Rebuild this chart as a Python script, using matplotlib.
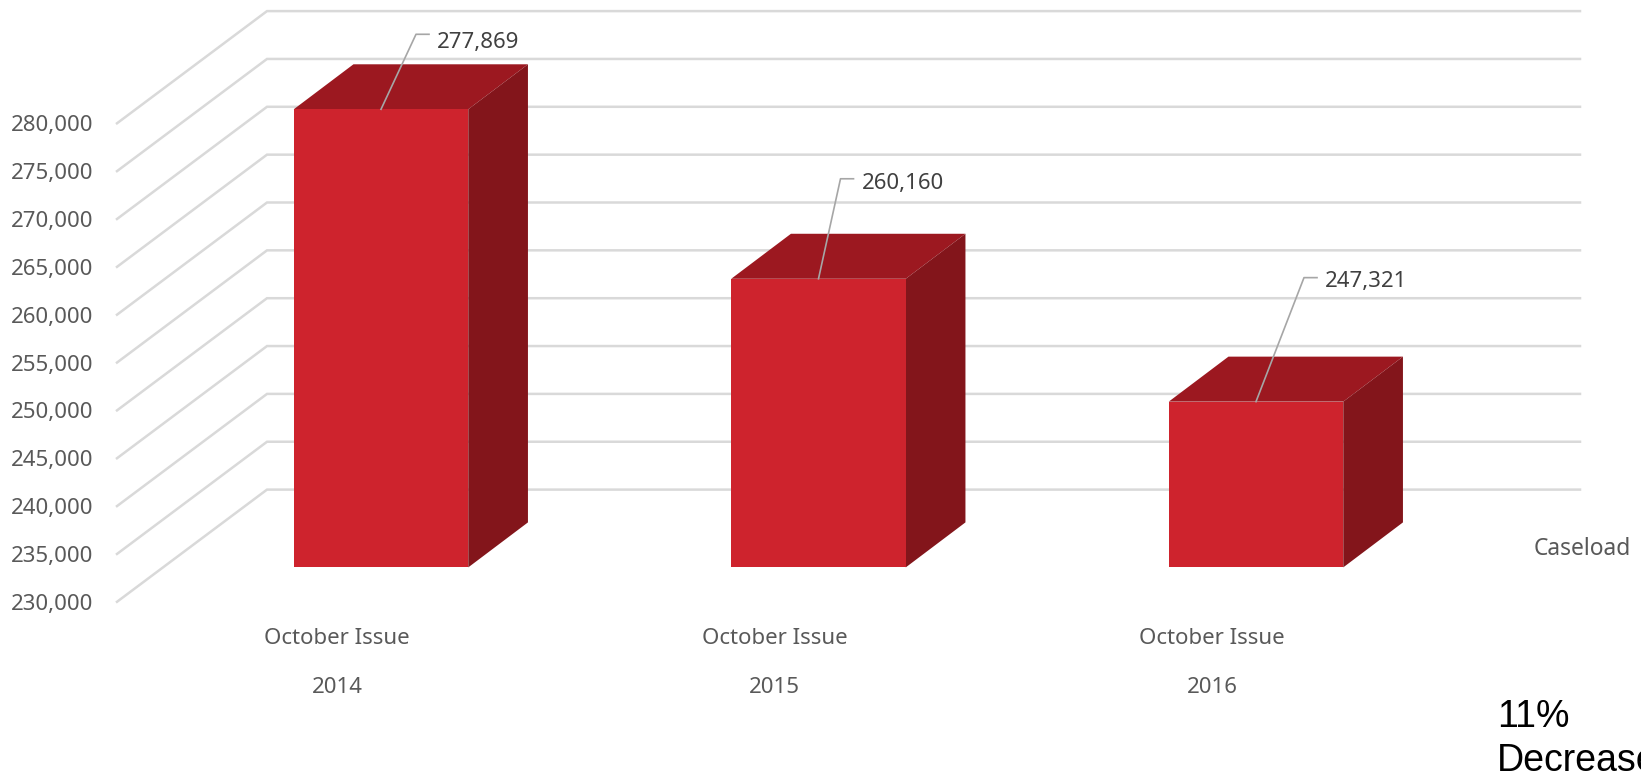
import numpy as np
import matplotlib
matplotlib.use('Agg')
import matplotlib.pyplot as plt

# Data
years = ['2014', '2015', '2016']
issue_labels = ['October Issue', 'October Issue', 'October Issue']
caseload = np.array([277869, 260160, 247321])
grid_values = np.arange(230000, 285000, 5000)
series_name = 'Caseload'
note_lines = ['11%', 'Decrease']

# Scales of the picture
px_per_cat = 437.5      # pixels between two bars
px_per_5k = 47.85       # pixels per 5,000 cases
x0_px = 381.0           # pixel of the first bar centre
base_px = 567.4         # pixel of the bar bottoms
W, H = 1641, 775


def dx(px):
    return px / px_per_cat


def dy(px):
    return px / px_per_5k * 5000


baseline = grid_values[0]
bar_w = dx(174.5)
depth_x, depth_y = dx(59.7), dy(45)

# Colours
front_col = '#CE232D'
top_col = '#9C1820'
side_col = '#83151B'
grid_col = '#D9D9D9'
text_col = '#595959'
label_col = '#404040'
leader_col = '#A6A6A6'

plt.rcParams['font.family'] = ['Noto Sans', 'DejaVu Sans']

fig = plt.figure(figsize=(W / 100, H / 100), dpi=100)
ax = fig.add_axes([0, 0, 1, 1])
ax.set_xlim(dx(-x0_px), dx(W - x0_px))
ax.set_ylim(baseline + dy(base_px - H), baseline + dy(base_px))
ax.axis('off')

# Walls: the lines come from the front edge, go back, then run to the right
x_front, x_back, x_right = dx(117 - x0_px), dx(267 - x0_px), dx(1580 - x0_px)
off_front, off_back = dy(-34.4), dy(77.8)
for v in grid_values:
    ax.plot([x_front, x_back, x_right], [v + off_front, v + off_back, v + off_back],
            color=grid_col, lw=1.8, solid_joinstyle='miter', zorder=1)
    ax.text(x_front - dx(24), v + off_front - dy(2.5), f'{v:,}', ha='right', va='center',
            fontsize=16, color=text_col)

# Bars
xs = np.arange(len(caseload))
ax.bar(xs, caseload - baseline, bottom=baseline, width=bar_w, color=front_col, zorder=3)
for x, v in zip(xs, caseload):
    l, r = x - bar_w / 2, x + bar_w / 2
    ax.fill([l, r, r + depth_x, l + depth_x], [v, v, v + depth_y, v + depth_y],
            color=top_col, lw=0, zorder=2)
    ax.fill([r, r + depth_x, r + depth_x, r],
            [baseline, baseline + depth_y, v + depth_y, v],
            color=side_col, lw=0, zorder=2)

# Data labels with leader lines
leader_dx = [35, 22, 48]
leader_dy = [75, 100, 124]
label_drop = [4, 1, 0]
for x, v, ldx, ldy, drop in zip(xs, caseload, leader_dx, leader_dy, label_drop):
    ex, ey = x + dx(ldx), v + dy(ldy)
    ax.plot([x, ex, ex + dx(13)], [v, ey, ey], color=leader_col, lw=1.2, zorder=4)
    ax.text(ex + dx(21), ey - dy(4 + drop), f'{v:,}', ha='left', va='center', fontsize=16,
            color=label_col, zorder=5)

# Category labels
for x, issue, year in zip(xs, issue_labels, years):
    ax.text(x - dx(44), baseline + dy(base_px - 638), issue, ha='center', va='center',
            fontsize=16, color=text_col)
    ax.text(x - dx(44), baseline + dy(base_px - 687.5), year, ha='center', va='center',
            fontsize=16, color=text_col)

ax.text(dx(1631 - x0_px), baseline + dy(base_px - 549), series_name, ha='right', va='center',
        fontsize=16.4, color=text_col)

# Note in the corner, runs off the picture like the original
for line, y_px in zip(note_lines, [717, 761]):
    ax.text(dx(1497 - x0_px), baseline + dy(base_px - y_px), line, ha='left', va='center',
            fontsize=27, color='black', family='Liberation Sans')

fig.savefig('out.png', dpi=100)
